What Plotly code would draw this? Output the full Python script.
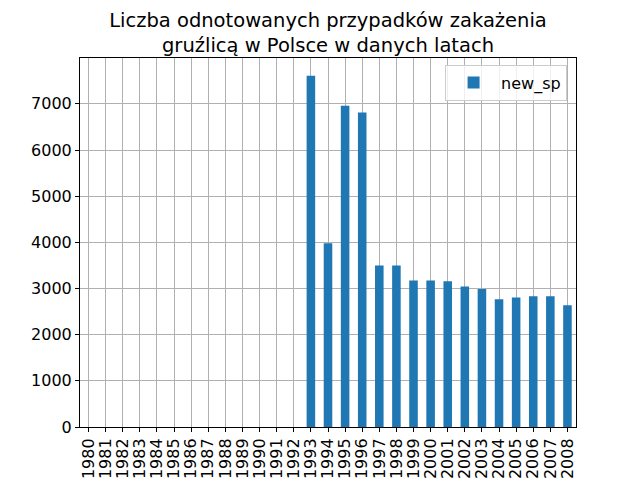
import plotly.graph_objects as go

# lata i liczba przypadków (new_sp)
years = [str(y) for y in range(1980, 2009)]
new_sp = [None] * 13 + [
    7610, 3980, 6960, 6810, 3500, 3500, 3175, 3175, 3155,
    3045, 2990, 2765, 2805, 2830, 2830, 2635,
]

FONT = "DejaVu Sans"

fig = go.Figure()
fig.add_trace(go.Bar(x=years, y=new_sp, name="new_sp", marker_color="#1f77b4",
                     marker_line_width=0))

# strona ma margines 8px, więc figura jest nieco mniejsza
fig.update_layout(
    width=634, height=484,
    margin=dict(l=72, r=66, t=50, b=65),
    paper_bgcolor="white", plot_bgcolor="white",
    font=dict(family=FONT, size=16, color="black"),
    bargap=0.5,
    showlegend=True,
    title=dict(
        text="Liczba odnotowanych przypadków zakażenia<br>gruźlicą w Polsce w danych latach",
        x=0.5, xref="paper", xanchor="center",
        y=1, yref="paper", yanchor="bottom", pad=dict(b=31),
        font=dict(family=FONT, size=19.5, color="black"),
    ),
    legend=dict(
        x=0.982, y=0.982, xanchor="right", yanchor="top",
        bgcolor="rgba(255,255,255,0.8)", bordercolor="#cccccc", borderwidth=1,
        itemwidth=45,
        font=dict(family=FONT, size=16),
    ),
)

fig.update_xaxes(
    type="category", range=[-0.5, len(years) - 0.5],
    tickmode="array", tickvals=years, ticktext=years,
    showgrid=True, gridcolor="#b0b0b0", gridwidth=1,
    showline=True, linecolor="black", linewidth=1, mirror=True,
    ticks="outside", ticklen=4, tickcolor="black", tickangle=-90,
    layer="above traces",
)
fig.update_yaxes(
    range=[0, 7993], tickvals=list(range(0, 8000, 1000)),
    showgrid=True, gridcolor="#b0b0b0", gridwidth=1, zeroline=False,
    showline=True, linecolor="black", linewidth=1, mirror=True,
    ticks="outside", ticklen=4, tickcolor="black",
    layer="above traces",
)

fig.write_html("out.html")
